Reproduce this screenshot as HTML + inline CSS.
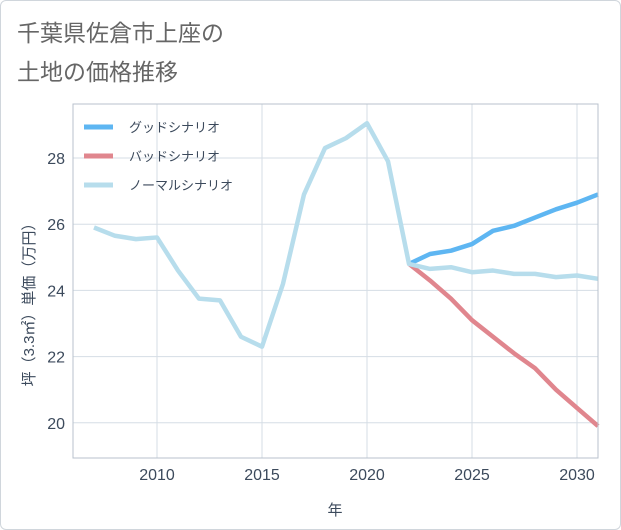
<!DOCTYPE html>
<html><head><meta charset="utf-8"><style>
body{margin:0;background:#fff;}
#card{position:absolute;left:0;top:0;width:619px;height:528px;border:1px solid #d0d6dc;border-radius:6px;background:#fff;overflow:hidden;}
text{font-family:"Liberation Sans","Noto Sans CJK JP",sans-serif;}
</style></head><body>
<div id="card">
<svg id="chart" width="621" height="530">
<text x="16" y="40" font-size="23" fill="#666">千葉県佐倉市上座の</text>
<text x="16" y="79" font-size="23" fill="#666">土地の価格推移</text>
</svg>
</div>
<script>
const years=[2007,2008,2009,2010,2011,2012,2013,2014,2015,2016,2017,2018,2019,2020,2021,2022,2023,2024,2025,2026,2027,2028,2029,2030,2031];
const normal=[25.9,25.65,25.55,25.6,24.6,23.75,23.7,22.6,22.3,24.2,26.9,28.3,28.6,29.05,27.9,24.8,24.65,24.7,24.55,24.6,24.5,24.5,24.4,24.45,24.35];
const goodYears=[2022,2023,2024,2025,2026,2027,2028,2029,2030,2031];
const good=[24.8,25.1,25.2,25.4,25.8,25.95,26.2,26.45,26.65,26.9];
const bad=[24.8,24.3,23.75,23.1,22.6,22.1,21.65,21.0,20.45,19.9];
const xTicks=[2010,2015,2020,2025,2030];
const yTicks=[20,22,24,26,28];
const L=72,R=597,T=103,B=457;
const x=v=>156+(v-2010)*21;
const y=v=>157+(28-v)*33.1;
const svg=document.getElementById('chart');
const NS='http://www.w3.org/2000/svg';
function mk(t,a){const e=document.createElementNS(NS,t);for(const k in a)e.setAttribute(k,a[k]);svg.appendChild(e);return e;}
let bg=mk('rect',{x:L,y:T,width:R-L,height:B-T,fill:'#fff'});


xTicks.forEach(t=>{let g=mk('line',{x1:x(t),x2:x(t),y1:T,y2:B,stroke:'#d5dde5'});


let tx=mk('text',{x:x(t),y:B+22,'font-size':16,fill:'#3c4a5c','text-anchor':'middle'});tx.textContent=t;

});
yTicks.forEach(t=>{let g=mk('line',{x1:L,x2:R,y1:y(t),y2:y(t),stroke:'#d5dde5'});


let tx=mk('text',{x:L-8,y:y(t)+6,'font-size':16,fill:'#3c4a5c','text-anchor':'end'});tx.textContent=t;

});
function line(xs,vs,c,n){let p=mk('polyline',{points:xs.map((v,i)=>x(v)+','+y(vs[i])).join(' '),fill:'none',stroke:c,'stroke-width':4.5,'stroke-linejoin':'round'});

}
line(goodYears,bad,'#e0868e','bad-scenario-line');
line(goodYears,good,'#5eb6f2','good-scenario-line');
line(years,normal,'#b7ddec','normal-scenario-line');
let frame=mk('rect',{x:L,y:T,width:R-L,height:B-T,fill:'none',stroke:'#b8c2cc','stroke-width':1});


const leg=[['グッドシナリオ','#5eb6f2'],['バッドシナリオ','#e0868e'],['ノーマルシナリオ','#b7ddec']];
leg.forEach((l,i)=>{let yy=126+i*29;
let s=mk('line',{x1:83,x2:112,y1:yy,y2:yy,stroke:l[1],'stroke-width':5});


let t=mk('text',{x:128,y:yy+5,'font-size':13,fill:'#3c4a5c'});t.textContent=l[0];

});
let xt=mk('text',{x:334,y:514,'font-size':15,fill:'#3c4a5c','text-anchor':'middle'});xt.textContent='年';


let yt=mk('text',{x:0,y:0,'font-size':15,fill:'#3c4a5c','text-anchor':'middle',transform:'translate(33,300) rotate(-90)'});yt.textContent='坪（3.3㎡）単価（万円）';


</script>
</body></html>
